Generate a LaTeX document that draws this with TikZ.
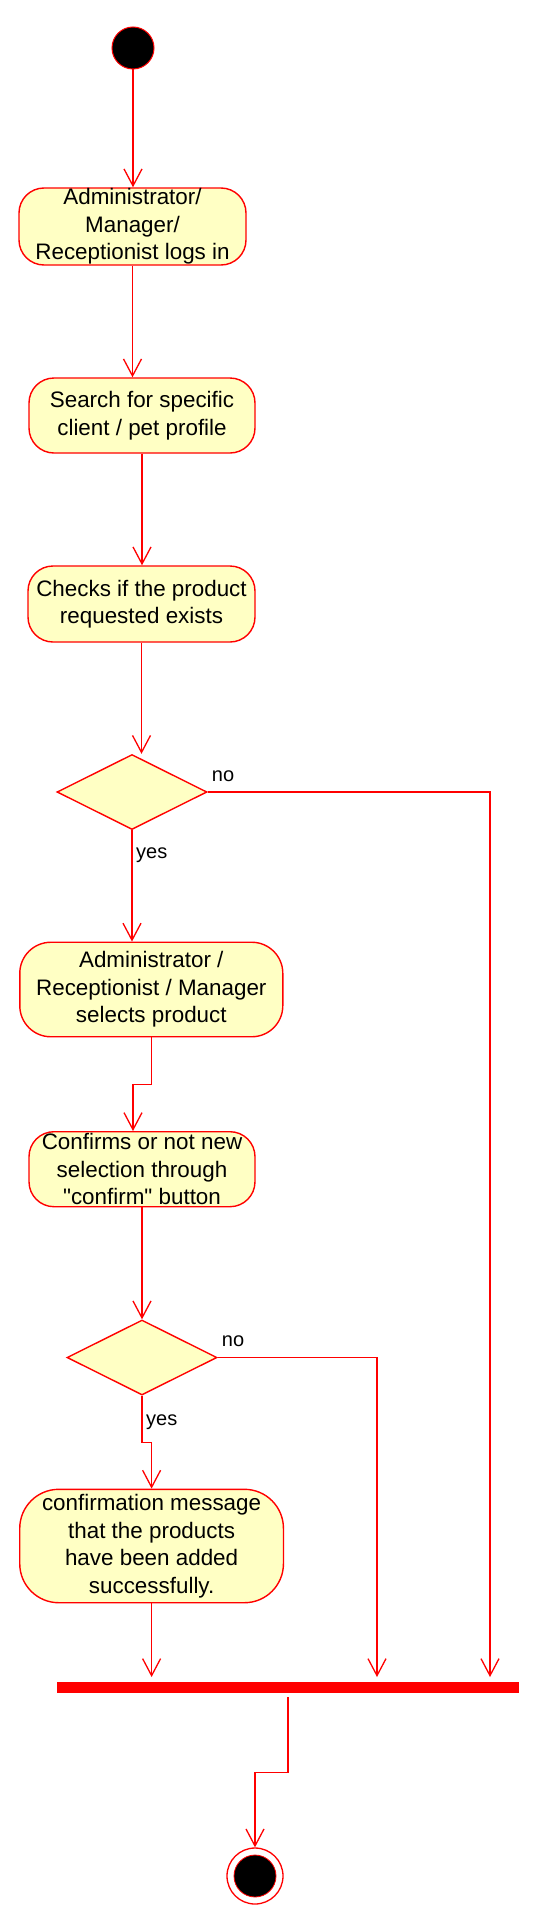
\documentclass[tikz,border=0pt]{standalone}
\usepackage{fontspec}
\setmainfont{Liberation Sans}[Ligatures=TeXOff]
\usetikzlibrary{shapes.geometric,arrows.meta,calc}
\definecolor{umlred}{RGB}{255,0,0}
\definecolor{umlfill}{RGB}{255,255,196}
\begin{document}
\begin{tikzpicture}[x=1pt,y=-1pt,
  act/.style={draw=umlred, fill=umlfill, line width=1.4pt, rounded corners=25pt,
    inner sep=0pt, align=center, font=\fontsize{22.4}{27.5}\selectfont},
  dec/.style={diamond, draw=umlred, fill=umlfill, line width=1.4pt, inner sep=0pt,
    minimum width=150pt, minimum height=75pt},
  flow/.style={draw=umlred, line width=1.3pt,
    -{Straight Barb[length=17pt,width=18pt]}},
  lbl/.style={font=\fontsize{20}{24}\selectfont, inner sep=0pt, anchor=west},
]
\fill[white] (0,0) rectangle (544,1924);
\useasboundingbox (0,0) rectangle (544,1924);

% nodes
\node[circle, fill=black, draw=umlred, line width=1pt, minimum size=42pt, inner sep=0pt] (start) at (133,48) {};
\node[act, minimum width=227pt, minimum height=77pt] (a1) at (132.5,226.5)
  {Administrator/\\Manager/\\Receptionist logs in};
\node[act, minimum width=226pt, minimum height=75pt] (a2) at (142,415.5)
  {Search for specific\\client / pet profile};
\node[act, minimum width=227pt, minimum height=76pt] (a3) at (141.5,604)
  {Checks if the product\\requested exists};
\node[dec] (d1) at (132,792) {};
\node[act, minimum width=263pt, minimum height=94.5pt, rounded corners=31pt] (a4) at (151.3,989.5)
  {Administrator /\\Receptionist / Manager\\selects product};
\node[act, minimum width=226pt, minimum height=75pt] (a5) at (142,1169.2)
  {Confirms or not new\\selection through\\"confirm" button};
\node[dec] (d2) at (142,1357.5) {};
\node[act, minimum width=263.7pt, minimum height=113.4pt, rounded corners=39pt] (a6) at (151.6,1546)
  {confirmation message\\that the products\\have been added\\successfully.};
\node[rectangle, fill=umlred, inner sep=0pt, minimum width=461.4pt, minimum height=11pt] (bar) at (288,1687.5) {};
\node[circle, draw=umlred, fill=white, line width=1.3pt, minimum size=56pt, inner sep=0pt] (end) at (255,1876) {};
\node[circle, draw=umlred, fill=black, line width=0.8pt, minimum size=42pt, inner sep=0pt] (endin) at (end.center) {};

% bar entry points
\coordinate (bin1) at (151.6,1677);
\coordinate (bin2) at (377,1677);
\coordinate (bin3) at (490,1677);

% labels
\node[lbl] (no1) at ([xshift=4pt,yshift=16pt]d1.east) {no};
\node[lbl] (yes1) at ([xshift=4pt,yshift=-25pt]d1.south) {yes};
\node[lbl] (no2) at ([xshift=4pt,yshift=16pt]d2.east) {no};
\node[lbl] (yes2) at ([xshift=4pt,yshift=-26pt]d2.south) {yes};

% connectors
\draw[flow] (start) -- (start |- a1.north);
\draw[flow] (a1.south) -- (a1.south |- a2.north);
\draw[flow] (a2.south) -- (a2.south |- a3.north);
\draw[flow] (a3.south) -- (a3.south |- d1.north);
\draw[flow] (d1.south) -- (d1.south |- a4.north);
\draw[flow] (d1.east) -| (bin3);
\draw[flow] (a4.south) -- ++(0,47) -| ([xshift=-9pt]a5.north);
\draw[flow] (a5.south) -- (a5.south |- d2.north);
\draw[flow] (d2.south) -- ++(0,47) -| (a6.north);
\draw[flow] (d2.east) -| (bin2);
\draw[flow] (a6.south) -- (bin1);
\draw[flow] ([yshift=-4pt]bar.south) -- ++(0,75) -| (end.north);
\end{tikzpicture}
\end{document}
